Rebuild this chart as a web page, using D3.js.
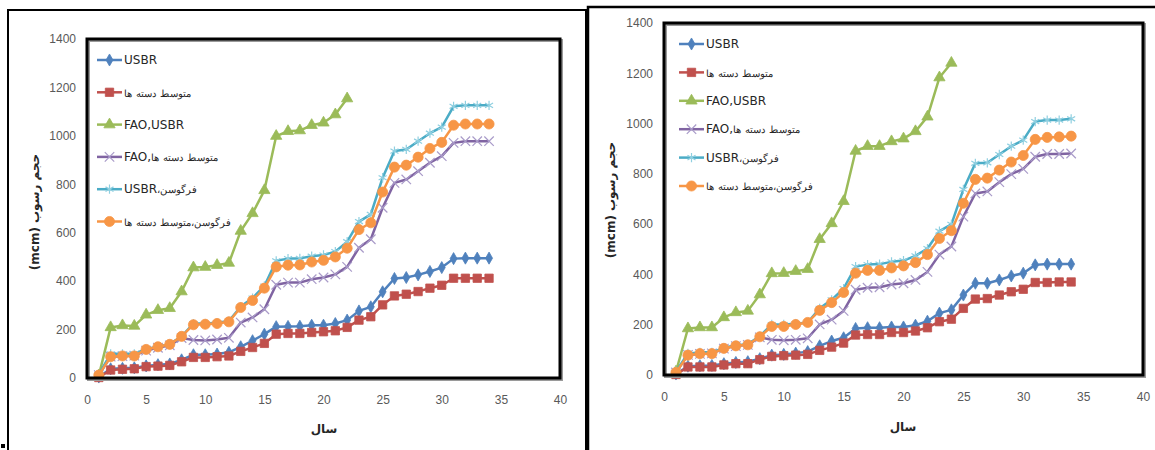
<!DOCTYPE html>
<html>
<head>
<meta charset="utf-8">
<script src="https://cdn.jsdelivr.net/npm/d3@7"></script>
<style>
  @font-face {
    font-family: "LegendArabic";
    src: local("DejaVu Sans"), local("DejaVuSans");
    unicode-range: U+0600-06FF, U+FB50-FDFF, U+FE70-FEFF;
    size-adjust: 84%;
  }
  html, body { margin: 0; padding: 0; background: #fff; }
  svg { display: block; }
  .tick text { font-family: "Liberation Sans", Arial, sans-serif; font-size: 12px; fill: #595959; }
  .legend text { font-family: "Liberation Sans Narrow", "LegendArabic", "DejaVu Sans", sans-serif; font-size: 12px; fill: #262626; }
  .title { font-family: "DejaVu Sans", "Liberation Sans", sans-serif; font-size: 12px; font-weight: bold; fill: #262626; }
</style>
</head>
<body>
<svg id="chart" width="1155" height="450"></svg>
<script>
// Years (x categories) and tick labels
const years = [1,2,3,4,5,6,7,8,9,10,11,12,13,14,15,16,17,18,19,20,21,22,23,24,25,26,27,28,29,30,31,32,33,34];
const xTicks = [0,5,10,15,20,25,30,35,40];
const yTicks = [0,200,400,600,800,1000,1200,1400];

// Series names (legend labels)
const seriesNames = ["USBR", "متوسط دسته ها", "FAO,USBR", "FAO,متوسط دسته ها", "USBR،فرگوسن", "فرگوسن،متوسط دسته ها"];

// Left chart: cumulative sediment volume (mcm)
const leftUsbr   = [4,38,40,42,50,55,58,75,96,96,99,106,129,154,181,212,213,214,218,218,225,239,277,294,356,411,415,426,440,456,493,495,495,495];
const leftAvg    = [2,33,36,38,47,49,52,67,85,85,88,91,110,126,143,181,184,184,188,191,195,209,239,253,302,339,346,357,371,383,412,412,412,412];
const leftFaoUsbr = [10,209,217,215,261,280,288,357,456,458,466,475,607,680,775,999,1019,1022,1044,1054,1088,1154];
const leftFaoAvg = [12,88,90,92,113,125,135,165,157,155,159,166,229,250,284,385,394,394,408,415,428,459,538,573,703,806,820,854,889,916,971,978,978,978];
const leftFergUsbr = [15,100,100,100,119,130,140,172,225,225,228,235,295,330,380,484,493,494,503,508,522,563,646,676,827,937,944,978,1011,1036,1122,1126,1126,1126];
const leftFergAvg = [12,88,91,91,118,129,139,172,220,222,225,232,291,320,371,459,466,467,479,486,500,536,613,641,768,871,879,912,948,973,1044,1049,1049,1049];

// Right chart: cumulative sediment volume (mcm)
const rightUsbr   = [4,35,37,38,45,50,53,65,79,82,87,93,116,135,148,185,188,188,191,191,198,214,246,259,318,365,365,378,394,405,438,441,441,441];
const rightAvg    = [2,32,32,32,40,45,45,61,74,77,79,82,98,111,127,159,161,161,169,169,175,188,212,222,265,302,304,318,331,341,368,368,370,370];
const rightFaoUsbr = [13,185,189,189,229,249,255,320,404,405,413,421,540,603,691,891,910,910,929,940,969,1027,1183,1241];
const rightFaoAvg = [10,80,84,86,105,115,120,150,140,138,140,146,201,220,255,339,347,349,360,365,378,410,479,511,630,722,730,767,799,820,868,879,879,881];
const rightFergUsbr = [14,86,90,90,108,118,122,155,201,201,204,209,265,299,344,431,439,441,450,455,474,503,572,599,738,842,844,877,910,934,1008,1014,1014,1019];
const rightFergAvg = [10,79,85,85,106,116,120,152,193,193,201,209,257,288,328,405,416,416,426,434,447,479,543,574,683,778,783,815,847,873,937,945,947,950];

// Per-series drawing style (Excel 2007 palette)
const styles = [
  { color: "#4F81BD", symbol: d3.symbolDiamond,  size: 42, fill: true },
  { color: "#C0504D", symbol: d3.symbolSquare,   size: 70, fill: true },
  { color: "#9BBB59", symbol: d3.symbolTriangle, size: 55, fill: true },
  { color: "#8064A2", symbol: d3.symbolX,        size: 60, fill: false, markColor: "#A99BC9" },
  { color: "#4BACC6", symbol: d3.symbolAsterisk, size: 60, fill: false, markColor: "#8FCFE0" },
  { color: "#F79646", symbol: d3.symbolCircle,   size: 80, fill: true }
];

const svg = d3.select("#chart");

// Outer chart borders
svg.append("rect").attr("x", 8).attr("y", 10).attr("width", 578).attr("height", 460)
  .attr("fill", "none").attr("stroke", "#000").attr("stroke-width", 2);
svg.append("rect").attr("x", 588).attr("y", 7).attr("width", 600).attr("height", 460)
  .attr("fill", "none").attr("stroke", "#000").attr("stroke-width", 2.5);
svg.append("rect").attr("x", 1).attr("y", 444).attr("width", 4).attr("height", 4).attr("fill", "#000");

function drawChart(cfg) {
  const g = svg.append("g");
  const x = d3.scaleLinear().domain([0, 40]).range([cfg.left, cfg.right]);
  const y = d3.scaleLinear().domain([0, 1400]).range([cfg.bottom, cfg.top]);

  // Axes (tick labels only; the frame is drawn separately)
  const ya = g.append("g").attr("transform", `translate(${cfg.left},0)`)
    .call(d3.axisLeft(y).tickValues(yTicks).tickSize(0).tickPadding(11).tickFormat(d3.format("d")));
  ya.select(".domain").remove();
  const xa = g.append("g").attr("transform", `translate(0,${cfg.bottom})`)
    .call(d3.axisBottom(x).tickValues(xTicks).tickSize(0).tickPadding(17).tickFormat(d3.format("d")));
  xa.select(".domain").remove();

  // Series lines and markers
  cfg.series.forEach((vals, i) => {
    const st = styles[i];
    const pts = vals.map((v, k) => [years[k], v]);
    g.append("path").datum(pts)
      .attr("fill", "none").attr("stroke", st.color).attr("stroke-width", 2.5)
      .attr("stroke-linejoin", "round")
      .attr("d", d3.line().x(d => x(d[0])).y(d => y(d[1])));
    g.append("g").selectAll("path").data(pts).join("path")
      .attr("transform", d => `translate(${x(d[0])},${y(d[1])})`)
      .attr("d", d3.symbol(st.symbol, st.size))
      .attr("fill", st.fill ? st.color : "none")
      .attr("stroke", st.fill ? st.color : st.markColor)
      .attr("stroke-width", st.fill ? 0.8 : 1.2);
  });

  // Plot-area frame with soft shadow
  g.append("rect").attr("x", cfg.left + 1.5).attr("y", cfg.top + 1.5)
    .attr("width", cfg.right - cfg.left).attr("height", cfg.bottom - cfg.top)
    .attr("fill", "none").attr("stroke", "#9a9a9a").attr("stroke-width", 3);
  g.append("rect").attr("x", cfg.left).attr("y", cfg.top)
    .attr("width", cfg.right - cfg.left).attr("height", cfg.bottom - cfg.top)
    .attr("fill", "none").attr("stroke", "#000").attr("stroke-width", 3);

  // Legend
  const lg = g.append("g").attr("class", "legend");
  seriesNames.forEach((name, i) => {
    const st = styles[i];
    const ly = cfg.legY + i * cfg.legDy;
    lg.append("line").attr("x1", cfg.legX).attr("x2", cfg.legX + 25)
      .attr("y1", ly).attr("y2", ly).attr("stroke", st.color).attr("stroke-width", 2.5);
    lg.append("path").attr("transform", `translate(${cfg.legX + 12.5},${ly})`)
      .attr("d", d3.symbol(st.symbol, st.size))
      .attr("fill", st.fill ? st.color : "none")
      .attr("stroke", st.fill ? st.color : st.markColor)
      .attr("stroke-width", st.fill ? 0.8 : 1.2);
    lg.append("text").attr("x", cfg.legX + 27).attr("y", ly).attr("dy", "0.35em").text(name);
  });

  // Axis titles
  g.append("text").attr("class", "title")
    .attr("transform", `translate(${cfg.yTitleX},${cfg.yTitleY}) rotate(-90)`)
    .attr("text-anchor", "middle").attr("dy", "0.35em")
    .style("direction", "rtl")
    .text("حجم رسوب (mcm)");
  g.append("text").attr("class", "title")
    .attr("x", cfg.xTitleX).attr("y", cfg.xTitleY)
    .attr("text-anchor", "middle").attr("dy", "0.35em")
    .text("سال");
}

drawChart({
  left: 87, right: 560, top: 39, bottom: 378,
  legX: 97, legY: 60, legDy: 32.3,
  yTitleX: 35, yTitleY: 212, xTitleX: 324, xTitleY: 429,
  series: [leftUsbr, leftAvg, leftFaoUsbr, leftFaoAvg, leftFergUsbr, leftFergAvg]
});

drawChart({
  left: 664, right: 1143, top: 23, bottom: 375,
  legX: 679, legY: 44, legDy: 28.4,
  yTitleX: 611, yTitleY: 200, xTitleX: 903, xTitleY: 427,
  series: [rightUsbr, rightAvg, rightFaoUsbr, rightFaoAvg, rightFergUsbr, rightFergAvg]
});
</script>
</body>
</html>
